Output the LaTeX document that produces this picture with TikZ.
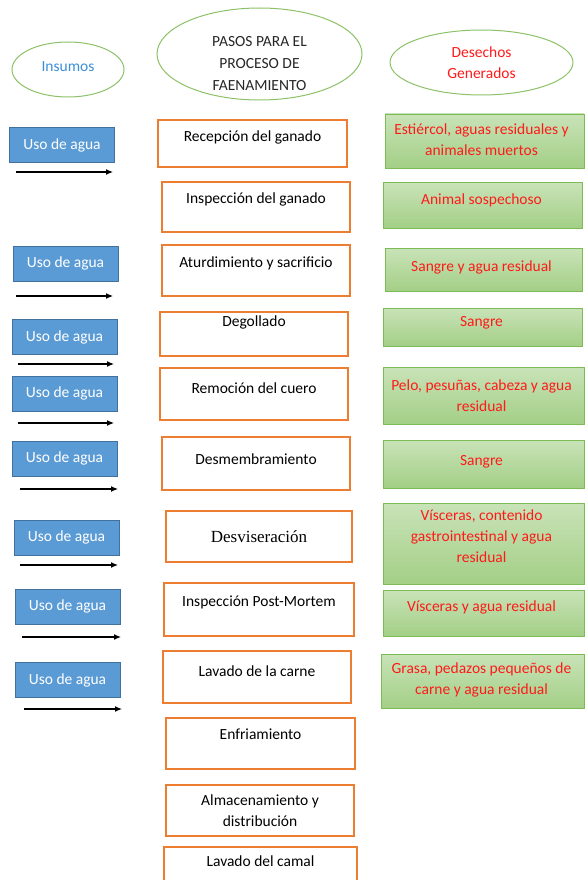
\documentclass[tikz,border=0pt]{standalone}
\usepackage{fontspec}
\setmainfont{Carlito}
\newfontfamily\serifo{Liberation Serif}
\usepackage{xcolor}
\usetikzlibrary{arrows.meta}
\usetikzlibrary{shapes.geometric}
\definecolor{naranja}{HTML}{ED7D31}
\definecolor{azul}{HTML}{5B9BD5}
\definecolor{azulborde}{HTML}{41719C}
\definecolor{verdeclaro}{HTML}{C9E3B8}
\definecolor{verdeoscuro}{HTML}{A3CF86}
\definecolor{verdeborde}{HTML}{7DBB57}
\definecolor{verdeelipse}{HTML}{8CC168}
\definecolor{azultexto}{HTML}{3B8ED8}
\definecolor{rojo}{HTML}{FF1A1A}
\definecolor{gristexto}{HTML}{262626}
\tikzset{
	txt/.style={anchor=center, align=center, font=\fontsize{15.5}{21}\selectfont},
	elipse/.style={ellipse, draw=verdeelipse, line width=1pt, inner sep=0pt},
	paso/.style={draw=naranja, line width=1.8pt, fill=white, inner sep=0pt},
	agua/.style={draw=azulborde, line width=0.8pt, fill=azul, text=white, inner sep=0pt,
		minimum width=105pt, minimum height=35pt, font=\fontsize{15.5}{18}\selectfont},
	desecho/.style={draw=verdeborde, line width=0.9pt, top color=verdeclaro, bottom color=verdeoscuro,
		inner sep=0pt},
	flecha/.style={-{Latex[length=7pt,width=6pt]}, line width=1.2pt}
}
\begin{document}
\begin{tikzpicture}[x=1pt,y=-1pt]
		\useasboundingbox (0,0) rectangle (584,880);
		% encabezados
		\node[elipse, minimum width=112pt, minimum height=55pt,
			label={[txt, text=azultexto, yshift=3pt]center:Insumos}] (insumos) at (68,69.5) {};
		\node[elipse, minimum width=205pt, minimum height=92pt,
			label={[txt, text=gristexto, yshift=-10pt, font=\fontsize{15.5}{22}\selectfont]center:PASOS PARA EL\\PROCESO DE\\FAENAMIENTO}] (pasos) at (259.5,54) {};
		\node[elipse, minimum width=183pt, minimum height=65pt,
			label={[txt, text=rojo]center:Desechos\\Generados}] (desechos) at (481.5,62.5) {};
		% pasos del proceso
		\node[paso, minimum width=189pt, minimum height=47pt,
			label={[txt, yshift=-18pt]north:Recepción del ganado}] (p1) at (252.5,143.5) {};
		\node[paso, minimum width=188pt, minimum height=50pt,
			label={[txt, yshift=-18pt]north:Inspección del ganado}] (p2) at (256,207) {};
		\node[paso, minimum width=188pt, minimum height=51pt,
			label={[txt, yshift=-19pt]north:Aturdimiento y sacrificio}] (p3) at (256,270.5) {};
		\node[paso, minimum width=188pt, minimum height=44pt,
			label={[txt, yshift=-11pt]north:Degollado}] (p4) at (254,334) {};
		\node[paso, minimum width=188pt, minimum height=52pt,
			label={[txt, yshift=-21pt]north:Remoción del cuero}] (p5) at (254,394) {};
		\node[paso, minimum width=188pt, minimum height=53pt,
			label={[txt, yshift=-23pt]north:Desmembramiento}] (p6) at (256,463.5) {};
		\node[paso, minimum width=186pt, minimum height=51pt,
			label={[txt, font=\serifo\fontsize{17}{20}\selectfont]center:Desviseración}] (p7) at (259,536.5) {};
		\node[paso, minimum width=190pt, minimum height=53pt,
			label={[txt, yshift=-20pt]north:Inspección Post-Mortem}] (p8) at (259,609.5) {};
		\node[paso, minimum width=188pt, minimum height=52pt,
			label={[txt, yshift=-21pt]north:Lavado de la carne}] (p9) at (257,677) {};
		\node[paso, minimum width=189pt, minimum height=51pt,
			label={[txt, yshift=-17pt]north:Enfriamiento}] (p10) at (260.5,743.5) {};
		\node[paso, minimum width=188pt, minimum height=51pt,
			label={[txt]center:Almacenamiento y\\distribución}] (p11) at (260,810.5) {};
		\node[paso, minimum width=193pt, minimum height=40pt,
			label={[txt, yshift=-15pt]north:Lavado del camal}] (p12) at (260.5,867) {};
		% insumos
		\node[agua] (a1) at (62,145) {Uso de agua};
		\node[agua] (a2) at (65.5,263.5) {Uso de agua};
		\node[agua] (a3) at (64.5,337) {Uso de agua};
		\node[agua] (a4) at (64.5,393.5) {Uso de agua};
		\node[agua] (a5) at (64.5,458.5) {Uso de agua};
		\node[agua] (a6) at (66.5,537.5) {Uso de agua};
		\node[agua] (a7) at (67.5,606.5) {Uso de agua};
		\node[agua] (a8) at (67.5,680) {Uso de agua};
		\coordinate (f1a) at (16,172);  \coordinate (f1b) at (113,172);
		\coordinate (f2a) at (16,296);  \coordinate (f2b) at (113,296);
		\coordinate (f3a) at (18,364);  \coordinate (f3b) at (114,364);
		\coordinate (f4a) at (18,423);  \coordinate (f4b) at (114,423);
		\coordinate (f5a) at (20,489);  \coordinate (f5b) at (118,489);
		\coordinate (f6a) at (20,565);  \coordinate (f6b) at (118,565);
		\coordinate (f7a) at (22,637);  \coordinate (f7b) at (121,637);
		\coordinate (f8a) at (24,709);  \coordinate (f8b) at (122,709);
		\draw[flecha] (f1a) -- (f1b);
		\draw[flecha] (f2a) -- (f2b);
		\draw[flecha] (f3a) -- (f3b);
		\draw[flecha] (f4a) -- (f4b);
		\draw[flecha] (f5a) -- (f5b);
		\draw[flecha] (f6a) -- (f6b);
		\draw[flecha] (f7a) -- (f7b);
		\draw[flecha] (f8a) -- (f8b);
		% desechos generados
		\node[desecho, minimum width=199pt, minimum height=54pt,
			label={[txt, text=rojo, xshift=-3pt, yshift=1pt]center:Estiércol, aguas residuales y\\animales muertos}] (d1) at (484.5,141) {};
		\node[desecho, minimum width=199pt, minimum height=46pt,
			label={[txt, text=rojo, xshift=-1pt, yshift=5pt]center:Animal sospechoso}] (d2) at (482.5,205) {};
		\node[desecho, minimum width=197pt, minimum height=43pt,
			label={[txt, text=rojo, xshift=-2pt, yshift=2pt]center:Sangre y agua residual}] (d3) at (483.5,269.5) {};
		\node[desecho, minimum width=199pt, minimum height=38pt,
			label={[txt, text=rojo, xshift=-1pt, yshift=4pt]center:Sangre}] (d4) at (482.5,327) {};
		\node[desecho, minimum width=201pt, minimum height=57pt,
			label={[txt, text=rojo, xshift=-2pt]center:Pelo, pesuñas, cabeza y agua\\residual}] (d5) at (483.5,395.5) {};
		\node[desecho, minimum width=201pt, minimum height=48pt,
			label={[txt, text=rojo, xshift=-2pt, yshift=2pt]center:Sangre}] (d6) at (483.5,464) {};
		\node[desecho, minimum width=201pt, minimum height=81pt,
			label={[txt, text=rojo, xshift=-2pt, yshift=7pt]center:Vísceras, contenido\\gastrointestinal y agua\\residual}] (d7) at (483.5,543.5) {};
		\node[desecho, minimum width=201pt, minimum height=46pt,
			label={[txt, text=rojo, xshift=-2pt, yshift=6pt]center:Vísceras y agua residual}] (d8) at (483.5,613) {};
		\node[desecho, minimum width=203pt, minimum height=54pt,
			label={[txt, text=rojo, xshift=-1pt, yshift=1pt]center:Grasa, pedazos pequeños de\\carne y agua residual}] (d9) at (482.5,681) {};
	\end{tikzpicture}
\end{document}
